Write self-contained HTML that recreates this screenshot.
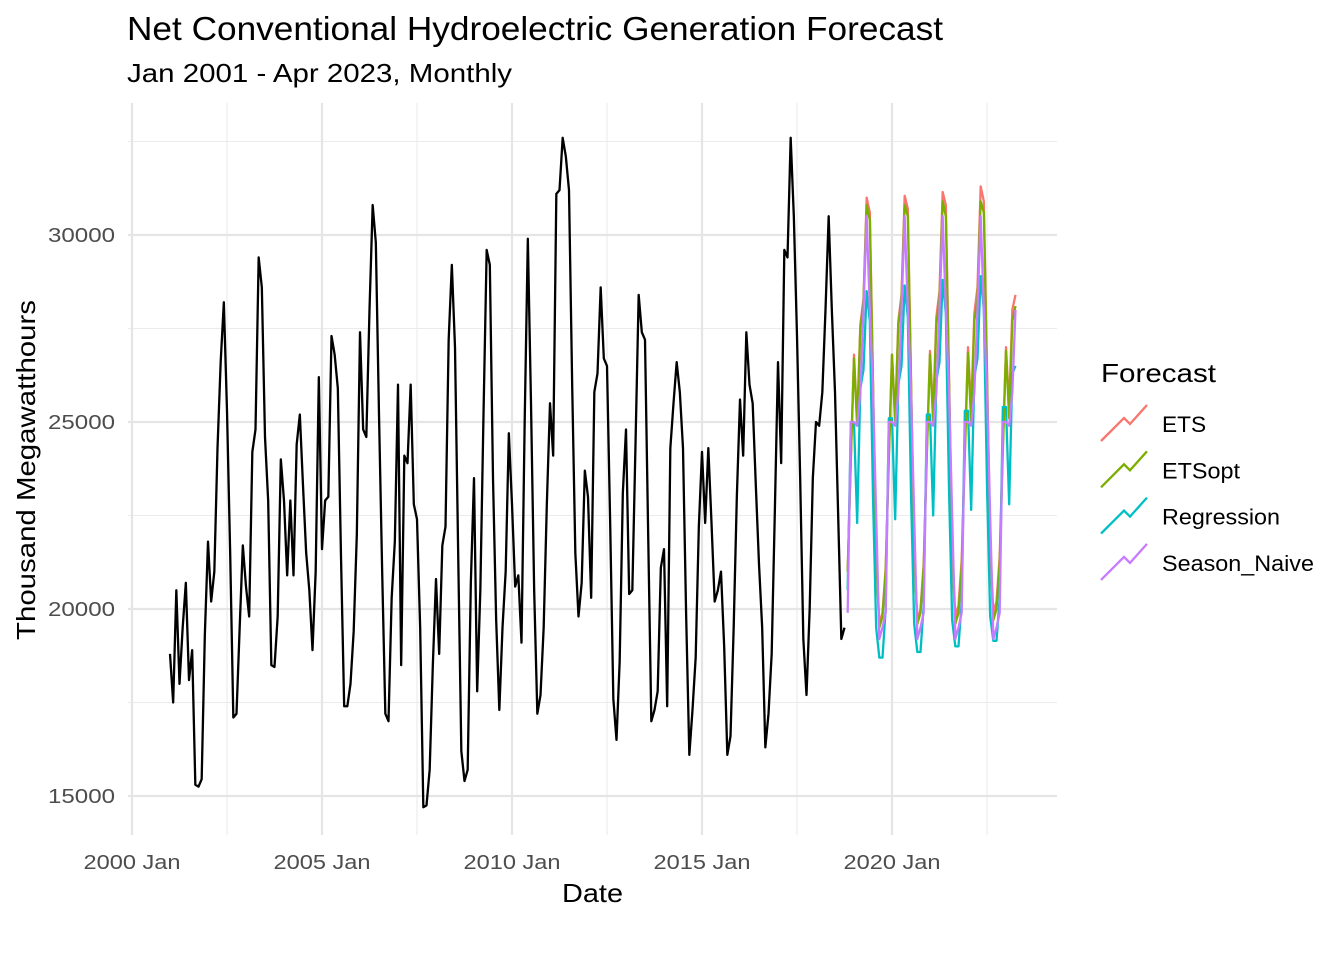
<!DOCTYPE html>
<html><head><meta charset="utf-8"><style>
html,body{margin:0;padding:0;background:#fff;}
svg{display:block;font-family:"Liberation Sans",Arial,sans-serif;}
</style></head><body>
<svg id="chart" width="1344" height="960" viewBox="0 0 1344 960" xmlns="http://www.w3.org/2000/svg">
<rect width="1344" height="960" fill="#fff"/>
<text x="127" y="40" font-size="33" textLength="816" lengthAdjust="spacingAndGlyphs" fill="#000">Net Conventional Hydroelectric Generation Forecast</text>
<text x="127" y="82" font-size="26" textLength="385" lengthAdjust="spacingAndGlyphs" fill="#000">Jan 2001 - Apr 2023, Monthly</text>
<g id="grid"></g>
<g id="axes"></g>
<g id="series"></g>
<text x="562" y="902" font-size="26" textLength="61" lengthAdjust="spacingAndGlyphs" fill="#000">Date</text>
<text transform="translate(35,640) rotate(-90)" font-size="26" textLength="340" lengthAdjust="spacingAndGlyphs" fill="#000">Thousand Megawatthours</text>
<g id="legend">
<text x="1101" y="382" font-size="26" textLength="115" lengthAdjust="spacingAndGlyphs" fill="#000">Forecast</text>
</g>
</svg>
<script>
const actual = [
18800,17500,20500,18000,19500,20700,18100,18900,15300,15250,15450,19300,
21800,20200,21000,24300,26600,28200,25300,21500,17100,17200,19500,21700,
20600,19800,24200,24800,29400,28600,24600,22900,18500,18450,19800,24000,
22900,20900,22900,20900,24400,25200,23300,21500,20500,18900,21000,26200,
21600,22900,23000,27300,26800,25900,21400,17400,17400,18000,19400,22000,
27400,24800,24600,28000,30800,29800,25200,21000,17200,17000,20300,21800,
26000,18500,24100,23900,26000,22800,22400,19500,14700,14750,15700,18500,
20800,18800,21700,22200,27200,29200,27000,21500,16200,15400,15700,20700,
23500,17800,20500,25200,29600,29200,23500,19700,17300,19500,21000,24700,
22800,20600,20900,19100,25000,29900,25500,20500,17200,17700,19500,22800,
25500,24100,31100,31200,32600,32100,31200,26000,21500,19800,20700,23700,
23000,20300,25800,26300,28600,26700,26500,22300,17600,16500,18600,23100,
24800,20400,20500,24400,28400,27400,27200,22000,17000,17300,17800,21100,
21600,17400,24300,25500,26600,25800,24300,19800,16100,17300,18700,22200,
24200,22300,24300,22300,20200,20500,21000,19000,16100,16600,19500,23000,
25600,24100,27400,26000,25500,23300,21200,19500,16300,17200,18800,22600,
26600,23900,29600,29400,32600,30500,27300,23500,19200,17700,20000,23500,
25000,24900,25800,28000,30500,28000,25800,22500,19200,19500];
const ets = [
21000,24000,26800,25000,27600,28300,31000,30600,26100,21500,19600,19900,
21100,24100,26800,25100,27700,28400,31050,30700,26200,21600,19700,20000,
21200,24200,26900,25200,27800,28500,31150,30800,26300,21700,19800,20100,
21300,24300,27000,25300,27900,28600,31300,30900,26400,21800,19900,20200,
21400,24400,27000,25400,28000,28400];
const etsopt = [
21000,24000,26700,24900,27500,28200,30800,30400,26000,21400,19500,19800,
21000,24000,26800,25000,27600,28300,30800,30500,26100,21500,19600,19900,
21100,24100,26800,25000,27600,28300,30900,30500,26100,21500,19600,19900,
21100,24100,26850,25000,27700,28300,30900,30600,26200,21600,19700,20000,
21200,24200,26900,25100,27700,28100];
const regression = [
20500,25000,25000,22300,25900,26400,28500,27700,23000,19500,18700,18700,
20000,25100,25100,22400,26000,26500,28650,27800,23100,19600,18850,18850,
20100,25200,25200,22500,26100,26600,28800,27900,23200,19700,19000,19000,
20200,25300,25300,22650,26200,26700,28900,28000,23300,19800,19150,19150,
20300,25400,25400,22800,26300,26500];
const seasonNaive = [
19900,25000,25000,24900,25800,28000,30500,28000,25800,22500,19200,19500,
19900,25000,25000,24900,25800,28000,30500,28000,25800,22500,19200,19500,
19900,25000,25000,24900,25800,28000,30500,28000,25800,22500,19200,19500,
19900,25000,25000,24900,25800,28000,30500,28000,25800,22500,19200,19500,
19900,25000,25000,24900,25800,28000];
const yTicks = [15000,20000,25000,30000];
const yMinor = [17500,22500,27500,32500];
const xTickYears = [2000,2005,2010,2015,2020];
const xTickLabels = ["2000 Jan","2005 Jan","2010 Jan","2015 Jan","2020 Jan"];

const NS="http://www.w3.org/2000/svg";
const X0=128,X1=1057,Y0=103,Y1=835;
function xs(t){return 132+(t-2000)*38;}
function ys(v){return 796-(v-15000)*(561/15000);}
function mk(tag,attrs,parent){const e=document.createElementNS(NS,tag);for(const k in attrs)e.setAttribute(k,attrs[k]);parent.appendChild(e);return e;}
const grid=document.getElementById('grid'),axes=document.getElementById('axes'),ser=document.getElementById('series');
yMinor.forEach(v=>{const l=mk('line',{x1:X0,x2:X1,y1:ys(v),y2:ys(v),stroke:'#ebebeb','stroke-width':1.1},grid);

});
xTickYears.forEach(t=>{const x=xs(t+2.5);const l=mk('line',{x1:x,x2:x,y1:Y0,y2:Y1,stroke:'#ebebeb','stroke-width':1.1},grid);

});
yTicks.forEach(v=>{const l=mk('line',{x1:X0,x2:X1,y1:ys(v),y2:ys(v),stroke:'#e5e5e5','stroke-width':2.2},grid);


const t=mk('text',{x:48,y:ys(v)+7,'font-size':20,textLength:67,lengthAdjust:'spacingAndGlyphs',fill:'#4d4d4d'},axes);t.textContent=v;

});
xTickYears.forEach((yr,i)=>{const x=xs(yr);const l=mk('line',{x1:x,x2:x,y1:Y0,y2:Y1,stroke:'#e5e5e5','stroke-width':2.2},grid);


const t=mk('text',{x:x-48.5,y:869,'font-size':20,textLength:97,lengthAdjust:'spacingAndGlyphs',fill:'#4d4d4d'},axes);t.textContent=xTickLabels[i];

});
function path(arr,start,color,name){
  const d=arr.map((v,i)=>(i?'L':'M')+xs(start+i/12).toFixed(2)+','+ys(v).toFixed(2)).join('');
  const p=mk('path',{d:d,fill:'none',stroke:color,'stroke-width':2.3,'stroke-linejoin':'round'},ser);
  
  
}
path(actual,2001,'#000','actual-line');
const fStart=2018+10/12;
path(ets,fStart,'#F8766D','ets-line');
path(etsopt,fStart,'#7CAE00','etsopt-line');
path(regression,fStart,'#00BFC4','regression-line');
path(seasonNaive,fStart,'#C77CFF','season-naive-line');
const leg=document.getElementById('legend');
const legW=[49,78,118,152];
[['ETS','#F8766D'],['ETSopt','#7CAE00'],['Regression','#00BFC4'],['Season_Naive','#C77CFF']].forEach((e,i)=>{
  const cy=424+i*46.3;
  const p=mk('path',{d:`M1101,${cy+17}L1124,${cy-6}L1130,${cy}L1147,${cy-19}`,fill:'none',stroke:e[1],'stroke-width':2.3},leg);
  
  
  const t=mk('text',{x:1162,y:cy+8,'font-size':22,textLength:legW[i]*(e[0]==='ETS'?0.9:1),lengthAdjust:'spacingAndGlyphs',fill:'#000'},leg);t.textContent=e[0];
  
  
});
</script>
</body></html>
